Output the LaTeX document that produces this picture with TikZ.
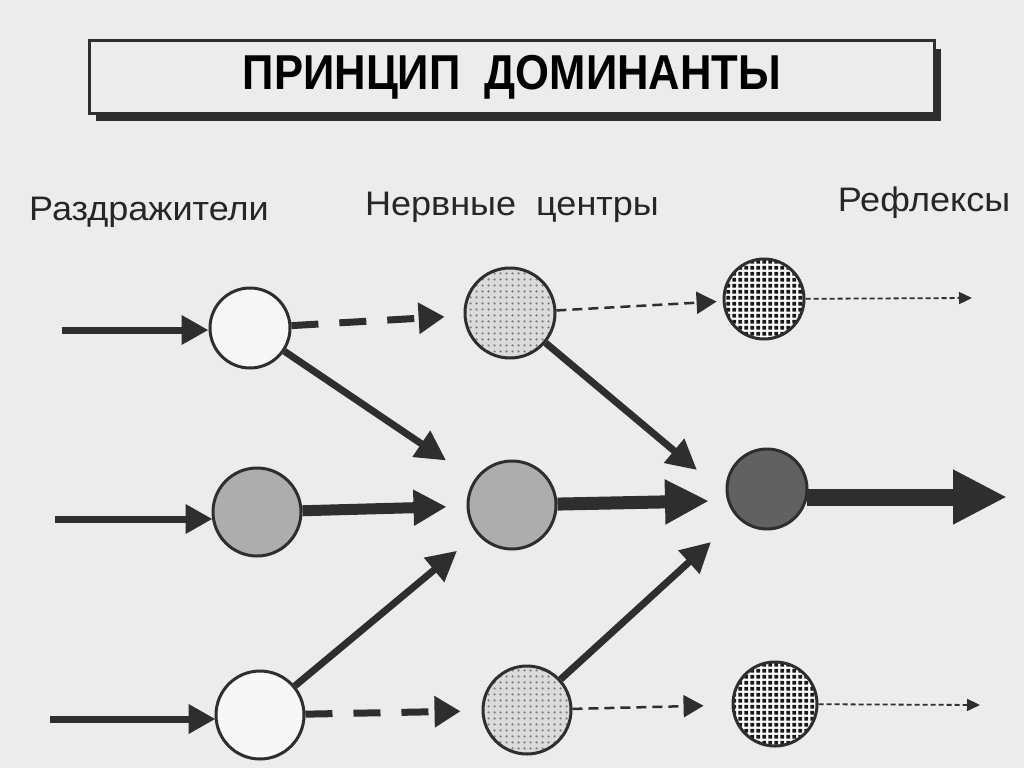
\documentclass[tikz,border=0pt]{standalone}
\usepackage{fontspec}
\setmainfont{Liberation Sans}
\usetikzlibrary{arrows.meta,patterns,shadows}
\pgfdeclarepatternformonly{densedots}{\pgfqpoint{0pt}{0pt}}{\pgfqpoint{6pt}{6pt}}{\pgfqpoint{6pt}{6pt}}{%
  \pgfpathrectangle{\pgfqpoint{0.5pt}{0.5pt}}{\pgfqpoint{4.2pt}{4.2pt}}\pgfusepath{fill}}
\pgfdeclarepatternformonly{lightdots}{\pgfqpoint{0pt}{0pt}}{\pgfqpoint{6pt}{6pt}}{\pgfqpoint{6pt}{6pt}}{%
  \pgfpathcircle{\pgfqpoint{3pt}{3pt}}{1.5pt}\pgfusepath{fill}}
\definecolor{paper}{HTML}{ECECEC}
\definecolor{ink}{HTML}{2E2E2E}
\tikzset{
  circ/.style={circle, draw=ink, line width=3pt, inner sep=0pt},
  whitec/.style={circ, fill=white!60!paper},
  lightc/.style={circ, preaction={fill=gray!28}, pattern=lightdots, pattern color=gray!95},
  midc/.style={circ, fill=black!32},
  darkgridc/.style={circ, preaction={fill=white}, pattern=densedots, pattern color=black!90},
  darkc/.style={circ, fill=black!62},
  inarr/.style={draw=ink, line width=7pt, -{Triangle[length=27pt,width=28pt]}},
  dasharr/.style={draw=ink, line width=7pt, dash pattern=on 27pt off 21pt, -{Triangle[length=26pt,width=30pt]}},
  diagarr/.style={draw=ink, line width=7pt, -{Triangle[length=30pt,width=30pt]}},
  midarr/.style={draw=ink, line width=11pt, -{Triangle[length=33pt,width=34pt]}},
  strongarr/.style={draw=ink, line width=13pt, -{Triangle[length=44pt,width=42pt]}},
  outarr/.style={draw=ink, line width=17pt, -{Triangle[length=54pt,width=51pt]}},
  thindash/.style={draw=ink, line width=2.5pt, dash pattern=on 10pt off 6pt, -{Triangle[length=20pt,width=22pt]}},
  dotarr/.style={draw=ink, line width=1.8pt, dash pattern=on 5pt off 3pt, -{Triangle[length=13pt,width=12pt]}},
  lbl/.style={font=\fontsize{34}{37}\selectfont, text=black!85, inner sep=0pt},
  titlebox/.style={draw=ink, line width=3pt, fill=paper, minimum width=845pt, minimum height=72pt,
    general shadow={fill=ink, shadow xshift=6pt, shadow yshift=-8pt}}
}
\begin{document}
\begin{tikzpicture}[x=1pt,y=-1pt]
\useasboundingbox (0,0) rectangle (1024,768);
\fill[paper] (0,0) rectangle (1024,768);

% title
\node[titlebox] (title) at (512,77) {\raisebox{-3pt}{\scalebox{0.89}[1]{\fontsize{49}{52}\selectfont\bfseries ПРИНЦИП\ \ ДОМИНАНТЫ}}};

% column labels
\node[lbl] (l1) at (149,212) {\scalebox{1.06}[1]{Раздражители}};
\node[lbl] (l2) at (512,207) {\scalebox{1.06}[1]{Нервные\ \ центры}};
\node[lbl] (l3) at (924,203) {\scalebox{1.06}[1]{Рефлексы}};

% circles
\node[whitec, minimum size=80pt] (c11) at (250,328) {};
\node[midc,   minimum size=88pt] (c12) at (257,512) {};
\node[whitec, minimum size=88pt] (c13) at (260,715) {};
\node[lightc, minimum size=90pt] (c21) at (510,313) {};
\node[midc,   minimum size=88pt] (c22) at (512,505) {};
\node[lightc, minimum size=88pt] (c23) at (527,710) {};
\node[darkgridc, minimum size=80pt] (c31) at (764,299) {};
\node[darkc,  minimum size=80pt] (c32) at (767,489) {};
\node[darkgridc, minimum size=84pt] (c33) at (775,704) {};

% free ends
\coordinate (i1) at (62,330);
\coordinate (i2) at (55,519);
\coordinate (i3) at (50,719);
\coordinate (tA) at (697,470);
\coordinate (tB) at (709,501);
\coordinate (tC) at (711,542);
\coordinate (o1) at (972,298);
\coordinate (o2) at (1007,497);
\coordinate (o3) at (980,705);

% inputs
\draw[inarr] (i1) -- (i1 -| c11.west);
\draw[inarr] (i2) -- ([xshift=1pt]i2 -| c12.west);
\draw[inarr] (i3) -- ([xshift=1pt]i3 -| c13.west);

% column 1 -> column 2
\draw[dasharr, shorten >=19pt] (c11) -- (c21);
\draw[midarr, shorten >=20pt] (c12) -- (c22);
\draw[dasharr, shorten >=21pt] (c13) -- (c23);
\draw[diagarr, shorten >=34pt] (c11) -- (c22);
\draw[diagarr, shorten >=26pt] (c13) -- (c22);

% column 2 -> column 3
\draw[thindash, shorten >=6pt] (c21) -- (c31);
\draw[strongarr] (c22) -- (tB);
\draw[thindash, shorten >=28pt] (c23) -- (c33);
\draw[diagarr] (c21) -- (tA);
\draw[diagarr] (c23) -- (tC);

% outputs
\draw[dotarr] (c31) -- (o1);
\draw[outarr] ([xshift=-2pt]o2 -| c32.east) -- (o2);
\draw[dotarr] (c33) -- (o3);
\end{tikzpicture}
\end{document}
